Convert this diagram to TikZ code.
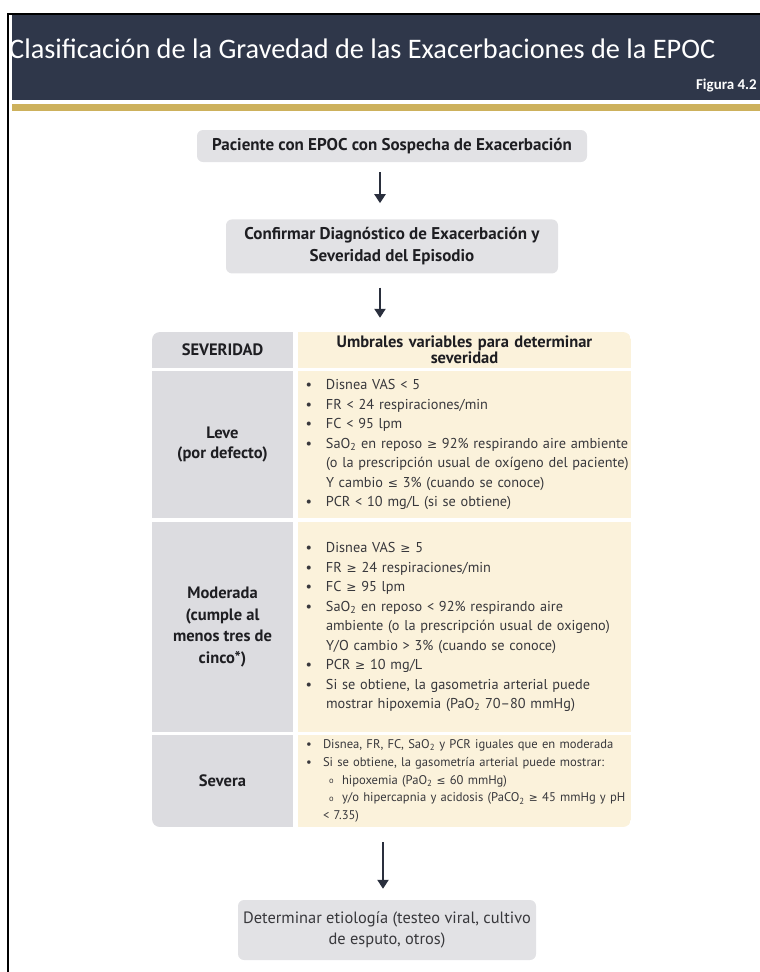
\documentclass[tikz,border=0pt]{standalone}
\usepackage{fontspec}
\setmainfont{PT Sans}
\newfontfamily\titlefont{Carlito}
\newfontfamily\dvsym[Scale=0.85]{DejaVu Sans}
\usetikzlibrary{arrows.meta, positioning}

\definecolor{navyband}{HTML}{2F374A}
\definecolor{goldline}{HTML}{CDB15C}
\definecolor{boxgray}{HTML}{E2E2E5}
\definecolor{sevgray}{HTML}{DCDCE0}
\definecolor{umbcream}{HTML}{FBF2DB}
\definecolor{textdark}{HTML}{1E1E22}
\definecolor{textgray}{HTML}{38383C}
\definecolor{arrowc}{HTML}{2A2F3D}

\newcommand{\geqs}{{\dvsym ≥}}
\newcommand{\leqs}{{\dvsym ≤}}
\newcommand{\dos}{\textsubscript{2}}
% lineas de las listas (una caja por linea, sin cortes)
\newcommand{\bul}[1]{\mbox{\makebox[22pt][l]{\hspace{1.5pt}\textbullet}#1}}
\newcommand{\sang}[1]{\mbox{\hspace{22pt}#1}}
\newcommand{\bulsm}[1]{\mbox{\makebox[19pt][l]{\hspace{2pt}\textbullet}#1}}
\newcommand{\subbul}[1]{\mbox{\hspace{25pt}\makebox[13pt][l]{\raisebox{0.6pt}{\fontsize{8.5}{9}\selectfont o}}#1}}
\newcommand{\sangsm}[1]{\mbox{\hspace{19pt}#1}}
\newcommand{\flowfont}{\bfseries\fontsize{17}{22}\selectfont}
\newcommand{\labfont}{\bfseries\fontsize{16.5}{20}\selectfont}
\newcommand{\itemfont}{\fontsize{14.3}{19.5}\selectfont}
\newcommand{\smallitemfont}{\fontsize{12.6}{17.8}\selectfont}

\tikzstyle{flowbox} = [rounded corners=6pt, fill=boxgray, align=center, inner sep=0pt, text=textdark]
\tikzstyle{sevcell} = [fill=sevgray, minimum width=141pt, inner sep=0pt, align=center, text=textdark, font=\labfont]
\tikzstyle{umbcell} = [fill=umbcream, text width=321pt, inner xsep=6pt, inner ysep=0pt, align=left, text=textgray, font=\itemfont]
\tikzstyle{flecha} = [draw=arrowc, line width=2.2pt, -{Triangle[width=11pt, length=9pt]}]

\begin{document}
\begin{tikzpicture}[x=1pt, y=-1pt]
\useasboundingbox (0,0) rectangle (760,972);

% encabezado
\fill[navyband] (12,15) rectangle (760,100);
\fill[goldline] (12,104) rectangle (760,111);
\draw[line width=2pt] (8,972) -- (8,14) -- (760,14);
\node[anchor=base west, text=white, inner sep=0pt, font=\titlefont\fontsize{28.3}{31}\selectfont] (titulo) at (9,58) {Clasificación de la Gravedad de las Exacerbaciones de la EPOC};
\node[anchor=base east, text=white, inner sep=0pt, font=\titlefont\bfseries\fontsize{15}{17}\selectfont] (figura) at (757,89) {Figura 4.2};

% flujo superior
\node[flowbox, minimum width=390pt, minimum height=32pt, font=\flowfont] (pac) at (392,146) {Paciente con EPOC con Sospecha de Exacerbación};
\node[flowbox, minimum width=332pt, minimum height=54pt, font=\flowfont, below=57pt of pac] (conf) {Confirmar Diagnóstico de Exacerbación y\\Severidad del Episodio};

% tabla de severidad
\begin{scope}
\clip[rounded corners=8pt] (152,332) rectangle (631,827);
\node[sevcell, minimum height=36pt] (sevhead) at (222.5,350) {SEVERIDAD};
\node[umbcell, minimum height=36pt, align=center, text=textdark, font=\bfseries\fontsize{16.5}{14}\selectfont] (umbhead) at (464.5,350) {Umbrales variables para determinar\\severidad};

\node[sevcell, minimum height=147pt] (levelab) at (222.5,444.5) {Leve\\(por defecto)};
\node[umbcell, minimum height=147pt] (levetxt) at (464.5,444.5) {%
\bul{Disnea VAS < 5}\\
\bul{FR < 24 respiraciones/min}\\
\bul{FC < 95 lpm}\\
\bul{SaO\dos{} en reposo \geqs{} 92\% respirando aire ambiente}\\
\sang{(o la prescripción usual de oxígeno del paciente)}\\
\sang{Y cambio \leqs{} 3\% (cuando se conoce)}\\
\bul{PCR < 10 mg/L (si se obtiene)}};

\node[sevcell, minimum height=210pt, font=\bfseries\fontsize{16.5}{21.5}\selectfont] (modlab) at (222.5,627) {Moderada\\(cumple al\\menos tres de\\cinco*)};
\node[umbcell, minimum height=210pt] (modtxt) at (464.5,627) {%
\bul{Disnea VAS \geqs{} 5}\\
\bul{FR \geqs{} 24 respiraciones/min}\\
\bul{FC \geqs{} 95 lpm}\\
\bul{SaO\dos{} en reposo < 92\% respirando aire}\\
\sang{ambiente (o la prescripción usual de oxigeno)}\\
\sang{Y/O cambio > 3\% (cuando se conoce)}\\
\bul{PCR \geqs{} 10 mg/L}\\
\bul{Si se obtiene, la gasometria arterial puede}\\
\sang{mostrar hipoxemia (PaO\dos{} 70--80 mmHg)}};

\node[sevcell, minimum height=92pt] (sevlab) at (222.5,781) {Severa};
\node[umbcell, minimum height=92pt, font=\smallitemfont] (sevtxt) at (464.5,781) {%
\bulsm{Disnea, FR, FC, SaO\dos{} y PCR iguales que en moderada}\\
\bulsm{Si se obtiene, la gasometría arterial puede mostrar:}\\
\subbul{hipoxemia (PaO\dos{} \leqs{} 60 mmHg)}\\
\subbul{y/o hipercapnia y acidosis (PaCO\dos{} \geqs{} 45 mmHg y pH}\\
\sangsm{< 7.35)}};
\end{scope}

% paso final
\node[flowbox, minimum width=298pt, minimum height=60pt, text=textgray, font=\fontsize{16.4}{21}\selectfont] (etio) at (387,930) {Determinar etiología (testeo viral, cultivo\\de esputo, otros)};

% flechas
\coordinate (ax) at (380,0);
\coordinate (ax3) at (383,0);
\draw[flecha, shorten <=10pt, shorten >=16pt] (pac.south -| ax) -- (conf.north -| ax);
\draw[flecha, shorten <=14pt, shorten >=14pt] (conf.south -| ax) -- (sevhead.north -| ax);
\draw[flecha, shorten <=15pt, shorten >=11pt] (sevlab.south -| ax3) -- (etio.north -| ax3);
\end{tikzpicture}
\end{document}
